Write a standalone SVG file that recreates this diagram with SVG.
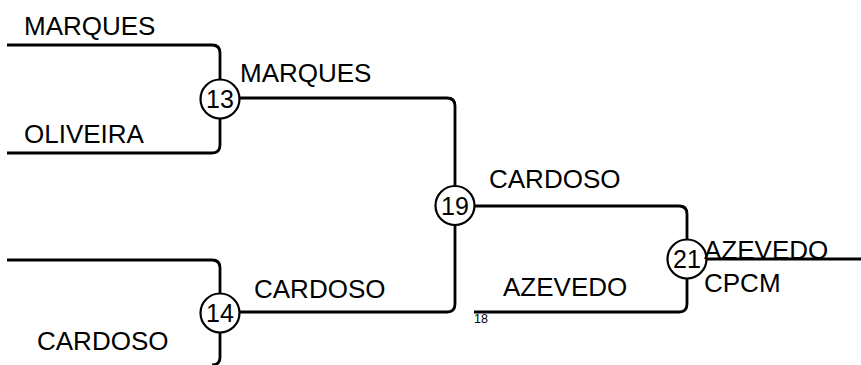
<svg xmlns="http://www.w3.org/2000/svg" width="861" height="365" viewBox="0 0 861 365">
<style>
.ln{fill:none;stroke:#000;stroke-width:2.8}
.nd{fill:#fff;stroke:#000;stroke-width:2.2}
.t{font-family:"Liberation Sans",Arial,sans-serif;font-size:26px;fill:#000}
.n{font-family:"Liberation Sans",Arial,sans-serif;font-size:25px;fill:#000;text-anchor:middle}
.s{font-family:"Liberation Sans",Arial,sans-serif;font-size:12.5px;fill:#000}
</style>
<rect width="861" height="365" fill="#fff"/>
<g id="connectors">
<path class="ln" d="M7,45 H212 Q220,45 220,53 V98"/>
<path class="ln" d="M7,153 H212 Q220,153 220,145 V98"/>
<path class="ln" d="M220,98 H447 Q455,98 455,106 V304 Q455,312 447,312 H220"/>
<path class="ln" d="M7,260 H212 Q220,260 220,268 V312"/>
<path class="ln" d="M220,312 V357 Q220,365 212,365"/>
<path class="ln" d="M455,206 H679 Q687,206 687,214 V304 Q687,312 679,312 H474"/>
<path class="ln" d="M687,259 H861"/>
</g>
<g id="labels">
<text class="t" x="24" y="35">MARQUES</text>
<text class="t" x="24" y="143">OLIVEIRA</text>
<text class="t" x="240" y="82">MARQUES</text>
<text class="t" x="37" y="350">CARDOSO</text>
<text class="t" x="254" y="298">CARDOSO</text>
<text class="t" x="489" y="188">CARDOSO</text>
<text class="t" x="503" y="296">AZEVEDO</text>
<text class="s" x="474" y="323">18</text>
</g>
<g id="node13">
<circle class="nd" cx="220" cy="99" r="19.5"/>
<text class="n" x="220" y="108">13</text>
</g>
<g id="node14">
<circle class="nd" cx="220" cy="313" r="19.5"/>
<text class="n" x="220" y="322">14</text>
</g>
<g id="node19">
<circle class="nd" cx="455" cy="205.5" r="19.5"/>
<text class="n" x="455" y="214.5">19</text>
</g>
<g id="node21">
<circle class="nd" cx="687" cy="259" r="19.5"/>
<text class="n" x="687" y="268">21</text>
<text class="t" x="704" y="259">AZEVEDO</text>
<text class="t" x="704" y="292">CPCM</text>
</g>
</svg>
